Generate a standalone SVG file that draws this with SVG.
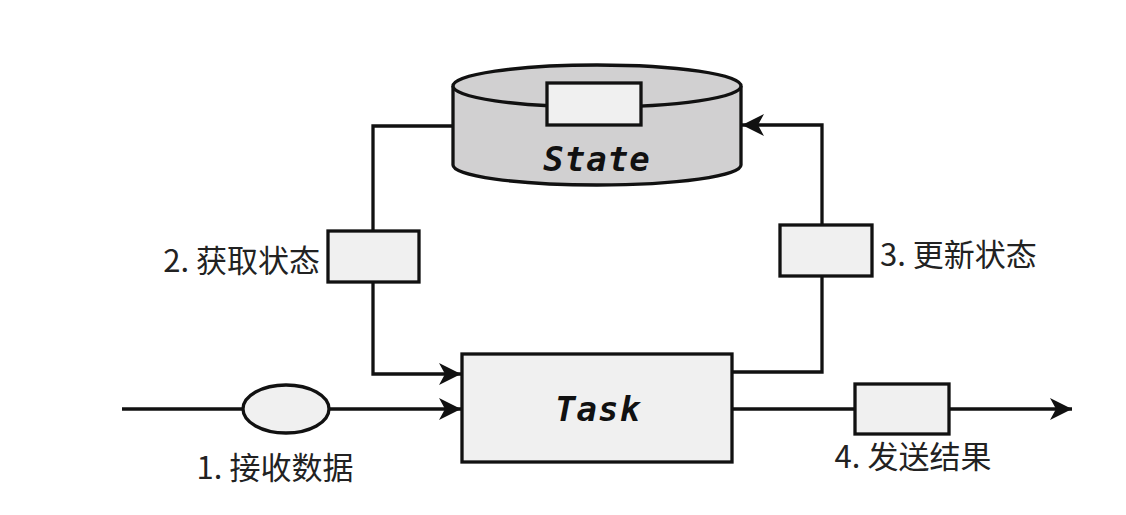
<svg xmlns="http://www.w3.org/2000/svg" width="1126" height="515" viewBox="0 0 1126 515">
<style>
.ln{fill:none;stroke:#111;stroke-width:3.3}
.bx{fill:#f0f0f0;stroke:#111;stroke-width:3.3}
.lbl{font-family:"Noto Sans CJK SC","Noto Sans",sans-serif;font-size:31px;fill:#222}
.ttl{font-family:"DejaVu Sans Mono",monospace;font-weight:bold;font-style:italic;font-size:34px;fill:#111;text-anchor:middle;letter-spacing:1px}
</style>
<defs>
<marker id="ar" viewBox="0 0 24 24" refX="22" refY="12" markerWidth="24" markerHeight="24" markerUnits="userSpaceOnUse" orient="auto">
<path d="M0,1 L22,12 L0,23 L6,12 Z" fill="#111"/>
</marker>
</defs>
<rect width="1126" height="515" fill="#fff"/>
<g id="connectors">
<path class="ln" d="M453,126 H373 V231"/>
<path class="ln" d="M373,282 V374 H461" marker-end="url(#ar)"/>
<path class="ln" d="M732,372 H822 V277"/>
<path class="ln" d="M822,225 V125 H742" marker-end="url(#ar)"/>
<path class="ln" d="M122,409 H243"/>
<path class="ln" d="M329,409 H461" marker-end="url(#ar)"/>
<path class="ln" d="M732,409 H855"/>
<path class="ln" d="M950,409 H1072" marker-end="url(#ar)"/>
</g>
<g id="state">
<path d="M453,86 V165 A144,20 0 0 0 741,165 V86" fill="#d1d0d1" stroke="#111" stroke-width="3.3"/>
<ellipse cx="597" cy="86" rx="144" ry="21" fill="#d1d0d1" stroke="#111" stroke-width="3.3"/>
<rect class="bx" x="547" y="83" width="94" height="42"/>
<text class="ttl" x="597" y="171">State</text>
</g>
<g id="task">
<rect class="bx" x="462" y="354" width="270" height="108"/>
<text class="ttl" x="598" y="421">Task</text>
</g>
<g id="get">
<rect class="bx" x="328" y="231" width="91" height="51"/>
<text class="lbl" x="320" y="272" text-anchor="end">2. 获取状态</text>
</g>
<g id="update">
<rect class="bx" x="780" y="225" width="92" height="51"/>
<text class="lbl" x="880" y="266">3. 更新状态</text>
</g>
<g id="receive">
<ellipse cx="286" cy="409" rx="43" ry="24" fill="#f0f0f0" stroke="#111" stroke-width="3.3"/>
<text class="lbl" x="275" y="479" text-anchor="middle">1. 接收数据</text>
</g>
<g id="send">
<rect class="bx" x="855" y="384" width="94" height="50"/>
<text class="lbl" x="913" y="468" text-anchor="middle">4. 发送结果</text>
</g>
</svg>
